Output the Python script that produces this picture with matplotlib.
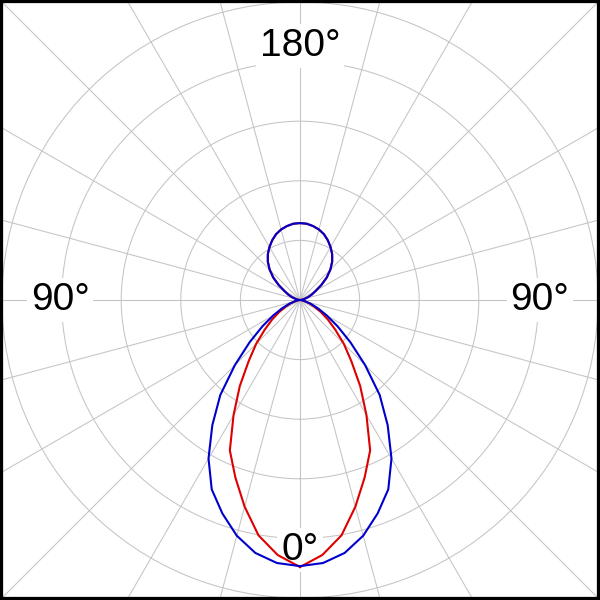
import numpy as np
import matplotlib.pyplot as plt
from matplotlib.patches import Rectangle

# polar response, angle measured from the front (0 deg, bottom) to the back (180 deg, top)
angles_deg = np.arange(0, 181, 5)

blue_r = [0.893, 0.886, 0.862, 0.819, 0.762, 0.701, 0.614, 0.513, 0.416, 0.309,
          0.221, 0.154, 0.104, 0.067, 0.040, 0.020, 0.010, 0.003, 0.000, 0.003,
          0.010, 0.017, 0.030, 0.044, 0.060, 0.087, 0.117, 0.144, 0.168, 0.188,
          0.205, 0.221, 0.235, 0.245, 0.252, 0.257, 0.258]

red_r = [0.896, 0.859, 0.802, 0.718, 0.634, 0.557, 0.446, 0.352, 0.268, 0.208,
         0.154, 0.114, 0.081, 0.054, 0.034, 0.017, 0.007, 0.003, 0.000, 0.003,
         0.010, 0.017, 0.030, 0.044, 0.060, 0.087, 0.117, 0.144, 0.168, 0.188,
         0.205, 0.221, 0.235, 0.245, 0.252, 0.257, 0.258]

ring_values = [0.2, 0.4, 0.6, 0.8, 1.0]
spoke_step = 15

# label text, angle, radius
labels = [("180°", 180, 0.853), ("0°", 0, 0.840), ("90°", 90, 0.805), ("90°", 270, 0.805)]


def mirror(a_deg, r):
    # pattern is symmetric: right half then left half
    a = np.asarray(a_deg, dtype=float)
    r = np.asarray(r, dtype=float)
    full_a = np.concatenate([a, 360 - a[::-1][1:]])
    full_r = np.concatenate([r, r[::-1][1:]])
    return np.deg2rad(full_a), full_r


plt.rcParams['font.family'] = ['Liberation Sans', 'DejaVu Sans']

fig = plt.figure(figsize=(6, 6), dpi=100)

# ring 1.0 sits ~298 px from the centre; spokes run out to the frame corners
rmax = 1.43
half = rmax * 298 / 600
ax = fig.add_axes([0.5 - half, 0.5 - half, 2 * half, 2 * half], projection='polar')

ax.set_theta_zero_location('S')
ax.set_ylim(0, rmax)
ax.set_thetagrids(np.arange(0, 360, spoke_step), labels=[])
ax.set_rgrids(ring_values, labels=[])
ax.grid(True, color='#c4c4c4', linewidth=0.75)
ax.set_axisbelow(True)
ax.spines['polar'].set_visible(False)
ax.patch.set_visible(False)

t, r = mirror(angles_deg, red_r)
ax.plot(t, r, color='#dd0000', linewidth=1.5, zorder=3, solid_joinstyle='round')
t, r = mirror(angles_deg, blue_r)
ax.plot(t, r, color='#0000cc', linewidth=1.5, zorder=4, solid_joinstyle='round')

for txt, a, rr in labels:
    ax.text(np.deg2rad(a), rr, txt, fontsize=28, ha='center', va='center',
            zorder=2, bbox=dict(boxstyle='square,pad=0.1', fc='white', ec='none'))

# black frame round the picture
fig.patches.append(Rectangle((0, 0), 1, 1, transform=fig.transFigure,
                             fill=False, edgecolor='black', linewidth=4.5))

fig.savefig('out.png', dpi=100)
